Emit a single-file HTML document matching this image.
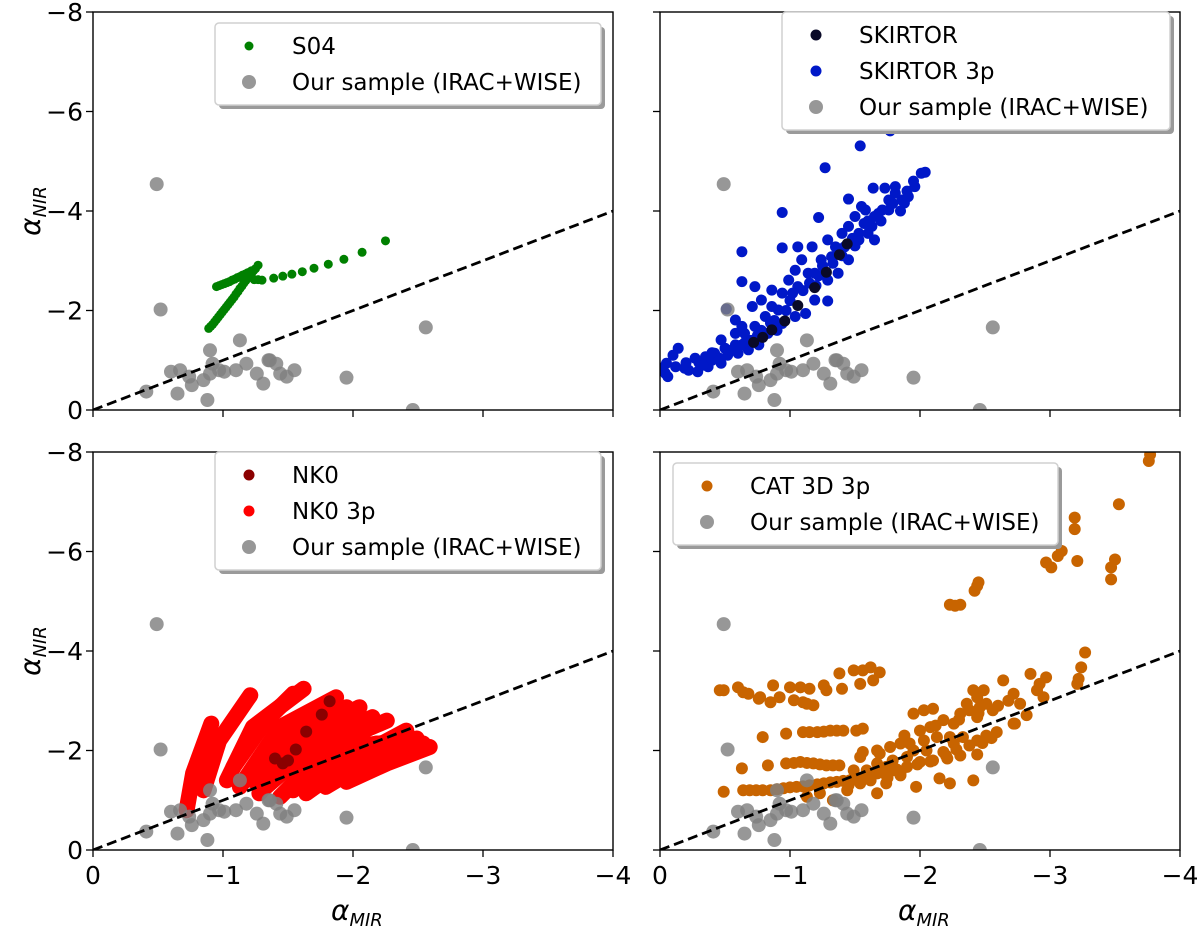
<!DOCTYPE html>
<html><head><meta charset="utf-8"><style>
body{margin:0;background:#fff}
svg{display:block;font-family:"DejaVu Sans","Liberation Sans",sans-serif}
</style></head><body>
<svg id="fig" width="1200" height="932" viewBox="0 0 1200 932" xmlns="http://www.w3.org/2000/svg"></svg>
<script>
const xTicks=[0,-1,-2,-3,-4];
const xTickLabels=["0","−1","−2","−3","−4"];
const yTicks=[0,-2,-4,-6,-8];
const yTickLabels=["0","−2","−4","−6","−8"];
const sampleX=[-0.49,-0.52,-2.56,-1.95,-0.41,-0.88,-2.46,-0.60,-0.67,-0.65,-0.76,-0.74,-0.85,-0.92,-0.97,-1.01,-1.10,-1.18,-1.26,-1.31,-1.36,-1.41,-1.44,-1.49,-1.55,-0.90,-1.13,-0.90,-1.35];
const sampleY=[-4.54,-2.02,-1.66,-0.65,-0.37,-0.20,0.0,-0.77,-0.80,-0.33,-0.50,-0.67,-0.60,-0.93,-0.80,-0.77,-0.80,-0.93,-0.73,-0.53,-1.00,-0.93,-0.73,-0.67,-0.80,-0.73,-1.40,-1.20,-1.00];
const s04X=[-0.89,-0.92,-0.95,-0.98,-1.01,-1.04,-1.07,-1.10,-1.13,-1.16,-1.19,-1.22,-1.25,-1.27,-0.95,-0.99,-1.03,-1.07,-1.11,-1.15,-1.19,-1.22,-1.24,-1.27,-1.30,-1.39,-1.46,-1.53,-1.61,-1.70,-1.81,-1.93,-2.07,-2.25,-0.905,-0.935,-0.965,-0.995,-1.025,-1.055,-1.085,-1.115,-1.145,-1.175,-1.205,-1.235,-0.97,-1.01,-1.05,-1.09,-1.13,-1.17,-1.21];
const s04Y=[-1.64,-1.72,-1.82,-1.92,-2.02,-2.12,-2.22,-2.33,-2.44,-2.55,-2.65,-2.75,-2.84,-2.91,-2.48,-2.52,-2.56,-2.61,-2.66,-2.71,-2.76,-2.80,-2.62,-2.62,-2.61,-2.65,-2.69,-2.73,-2.78,-2.85,-2.93,-3.03,-3.17,-3.40,-1.68,-1.77,-1.87,-1.97,-2.07,-2.17,-2.27,-2.38,-2.49,-2.60,-2.70,-2.80,-2.50,-2.54,-2.58,-2.63,-2.68,-2.73,-2.78];
const sk3pX=[-0.05,-0.06,-0.14,-0.19,-0.27,-0.35,-0.42,-0.50,-0.58,-0.58,-0.58,-0.65,-0.73,-0.71,-0.78,-0.73,-0.86,-0.86,-0.94,-0.99,-1.04,-1.09,-1.17,-1.06,-1.14,-1.24,-1.29,-1.35,-1.40,-1.45,-1.50,-1.55,-1.60,-1.65,-1.71,-1.76,-1.81,-1.86,-1.91,-1.96,-2.01,-2.04,-1.73,-1.81,-1.53,-1.45,-1.37,-1.29,-1.19,-1.12,-1.04,-0.94,-0.83,-0.76,-0.68,-0.60,-0.47,-0.37,-0.29,-0.22,-0.12,-0.04,-0.47,-0.63,-0.81,-0.91,-1.06,-1.19,-1.32,-1.42,-1.53,-1.63,-1.76,-1.88,-1.58,-1.65,-1.77,-1.54,-1.27,-0.94,-1.22,-0.63,-0.94,-0.63,-0.51,-1.29,-1.45,-1.64,-0.30,-0.40,-0.52,-0.70,-0.90,-1.00,-1.10,-1.20,-1.25,-1.40,-1.50,-1.60,-1.70,-1.85,-1.95,-0.85,-0.78,-0.65,-0.10,-0.02,-0.45,-0.55,-0.62,-0.75,-0.88,-0.97,-1.02,-1.15,-1.22,-1.33,-1.48,-1.57,-1.68,-1.79,-1.90,-0.20,-0.33,-0.40];
const sk3pY=[-0.94,-0.67,-1.24,-0.84,-1.04,-1.07,-1.14,-1.24,-1.31,-1.54,-1.81,-1.54,-1.68,-2.08,-2.21,-2.48,-2.08,-2.41,-2.35,-2.61,-2.81,-3.02,-3.28,-3.28,-2.75,-3.02,-3.42,-3.28,-3.55,-3.69,-3.89,-4.09,-3.55,-3.89,-4.02,-4.22,-4.36,-4.22,-4.29,-4.49,-4.76,-4.78,-4.46,-4.49,-3.42,-3.02,-2.75,-2.61,-2.21,-1.94,-1.88,-1.74,-1.54,-1.31,-1.21,-1.14,-0.94,-0.87,-0.77,-0.80,-0.87,-0.74,-1.41,-1.68,-1.88,-2.01,-2.48,-2.75,-3.08,-3.28,-3.55,-3.69,-4.02,-4.16,-4.02,-3.42,-5.61,-5.31,-4.87,-3.97,-3.87,-3.18,-3.26,-2.58,-2.03,-2.19,-4.24,-4.46,-0.95,-1.00,-1.10,-1.40,-1.60,-2.20,-2.40,-2.50,-2.90,-3.10,-3.30,-3.80,-3.80,-4.00,-4.60,-1.75,-1.60,-1.35,-1.10,-0.85,-1.05,-1.20,-1.30,-1.50,-1.80,-2.00,-2.35,-2.55,-2.70,-2.95,-3.45,-3.75,-3.95,-4.15,-4.40,-0.95,-0.90,-1.15];
const skX=[-0.72,-0.79,-0.86,-0.96,-1.06,-1.19,-1.28,-1.38,-1.44];
const skY=[-1.36,-1.46,-1.61,-1.79,-2.10,-2.46,-2.77,-3.12,-3.34];
const nk3pTracksX=[[-0.72,-0.77,-0.91],[-0.85,-0.97,-1.21],[-1.03,-1.23,-1.62],[-1.13,-1.44,-1.87],[-1.28,-1.64,-2.05],[-1.44,-1.85,-2.26],[-1.64,-2.03,-2.41],[-1.79,-2.13,-2.49],[-1.95,-2.26,-2.59],[-1.08,-1.33,-1.54],[-1.23,-1.54,-1.95],[-1.54,-1.95,-2.41],[-1.33,-1.74,-2.15],[-1.74,-2.18,-2.54]];
const nk3pTracksY=[[-0.80,-1.54,-2.54],[-1.20,-2.20,-3.11],[-1.40,-2.47,-3.24],[-1.27,-2.47,-3.07],[-1.14,-2.34,-2.87],[-1.07,-2.14,-2.60],[-1.14,-1.87,-2.40],[-1.27,-1.80,-2.24],[-1.37,-1.74,-2.07],[-1.67,-2.60,-3.14],[-1.40,-2.34,-2.87],[-1.20,-2.07,-2.20],[-1.27,-2.20,-2.67],[-1.54,-2.14,-2.14]];
const nk0X=[-1.40,-1.46,-1.50,-1.56,-1.64,-1.76,-1.82];
const nk0Y=[-1.84,-1.74,-1.80,-2.02,-2.38,-2.72,-2.99];
const catX=[-0.46,-0.60,-0.68,-0.76,-0.87,-0.85,-0.92,-1.00,-1.08,-1.15,-1.26,-1.28,-1.03,-1.10,-1.18,-1.38,-1.40,-1.49,-1.56,-1.62,-1.69,-1.54,-1.64,-0.49,-0.64,-0.77,-1.13,
-0.79,-0.97,-1.10,-1.21,-1.31,-1.41,-1.51,-1.56,-1.15,-1.36,-1.26,
-0.63,-0.83,-0.97,-1.08,-1.18,-1.28,-1.38,-1.49,-1.03,-1.13,-1.23,-1.33,
-0.49,-0.64,-0.74,-0.85,-0.95,-1.05,-1.15,-1.26,-1.36,-1.46,-1.56,-1.67,-1.79,-1.90,-2.00,-2.10,-2.21,-2.31,-2.44,-0.69,-0.79,-0.90,-1.00,-1.10,-1.21,-1.31,-1.41,-1.51,
-1.56,-1.67,-1.77,-1.85,-1.92,-2.03,-2.13,-2.23,-2.33,-2.44,-2.51,-2.59,-2.72,-2.82,-1.95,-2.03,-2.10,-2.18,-2.26,-2.08,-2.31,-2.36,-2.44,-2.51,-2.56,-2.64,-2.72,-2.77,-2.85,-2.92,-2.97,-2.90,-2.95,-2.44,-2.38,-2.46,-2.41,-2.49,
-1.13,-1.23,-1.33,-1.44,-1.54,-1.67,-1.74,-1.85,-1.97,-2.15,-2.23,-2.41,-1.67,-1.79,-1.95,-2.05,-2.18,-2.26,-1.59,-1.74,-1.90,-1.54,-1.69,
-2.23,-2.31,-2.27,-2.42,-2.45,-2.44,-2.97,-3.01,-3.06,-3.09,-3.19,-3.19,-3.21,-3.47,-3.50,-3.47,-3.53,-3.76,-3.77,-3.27,-3.24,-3.22,-3.21,-2.73,
-1.60,-1.72,-1.82,-1.98,-2.08,-2.20,-2.28,-2.38,-2.48,-2.55,-1.88,-2.00,-2.12,-2.30,-2.45,-2.60,-2.68,-1.45,-1.50,-1.62,-1.75,-1.85];
const catY=[-3.21,-3.27,-3.14,-3.04,-3.31,-2.97,-3.07,-3.27,-3.27,-3.24,-3.31,-3.21,-3.01,-2.97,-2.91,-3.55,-3.24,-3.61,-3.61,-3.67,-3.57,-3.34,-3.41,-3.21,-3.17,-3.07,-2.94,
-2.27,-2.34,-2.37,-2.37,-2.40,-2.40,-2.40,-2.44,-2.37,-2.40,-2.38,
-1.64,-1.70,-1.74,-1.77,-1.74,-1.70,-1.70,-1.60,-1.75,-1.75,-1.72,-1.70,
-1.17,-1.20,-1.20,-1.20,-1.24,-1.27,-1.30,-1.34,-1.37,-1.40,-1.44,-1.54,-1.60,-1.67,-1.77,-1.80,-1.84,-1.90,-1.92,-1.20,-1.20,-1.22,-1.26,-1.28,-1.32,-1.36,-1.39,-1.42,
-1.97,-2.00,-2.07,-2.14,-2.14,-2.20,-2.27,-2.27,-2.27,-2.20,-2.30,-2.37,-2.54,-2.71,-2.74,-2.81,-2.84,-2.61,-2.54,-2.47,-2.74,-2.94,-3.07,-2.94,-2.81,-3.41,-3.14,-2.94,-3.54,-3.34,-3.47,-3.21,-3.07,-2.67,-2.81,-2.87,-3.21,-3.21,
-1.07,-1.14,-1.00,-1.20,-1.34,-1.14,-1.34,-1.50,-1.27,-1.44,-1.34,-1.40,-1.74,-1.80,-2.00,-2.00,-1.97,-2.14,-1.60,-1.67,-1.87,-1.87,-1.94,
-4.93,-4.93,-4.91,-5.21,-5.38,-5.31,-5.78,-5.68,-5.91,-6.01,-6.68,-6.45,-5.81,-5.68,-5.84,-5.44,-6.95,-7.82,-7.95,-3.97,-3.67,-3.44,-3.34,-2.54,
-1.50,-1.55,-1.62,-1.72,-1.78,-1.90,-2.02,-2.10,-2.15,-2.25,-2.30,-2.40,-2.50,-2.62,-2.75,-2.90,-3.00,-1.30,-1.45,-1.40,-1.45,-1.55];

const NS="http://www.w3.org/2000/svg";
const svg=document.getElementById('fig');
const PW=520, PH=398;
function el(tag,attrs,parent){const e=document.createElementNS(NS,tag);for(const k in attrs)e.setAttribute(k,attrs[k]);(parent||svg).appendChild(e);return e;}
function sx(p,v){return p.left+(-v/4)*PW;}
function sy(p,v){return p.top+PH-(-v/8)*PH;}

const panels=[
 {key:'s04',left:93,top:12,xl:false,yl:true},
 {key:'skirtor',left:660,top:12,xl:false,yl:false},
 {key:'nk0',left:93,top:452,xl:true,yl:true},
 {key:'cat3d',left:660,top:452,xl:true,yl:false}
];

function dots(g,p,xs,ys,r,fill,op,name){
  for(let i=0;i<xs.length;i++){
    const c=el('circle',{cx:sx(p,xs[i]),cy:sy(p,ys[i]),r:r,fill:fill,'fill-opacity':op},g);
    
    
  }
}

function legend(g,p,x,y,w,entries){
  const h=10+entries.length*36;
  el('rect',{x:x+4,y:y+4,width:w,height:h,rx:4,fill:'#9a9a9a'},g);
  const box=el('rect',{x:x,y:y,width:w,height:h,rx:4,fill:'#fff',stroke:'#d0d0d0','stroke-width':1.5},g);
  
  
  entries.forEach((e,i)=>{
    const cy=y+23+i*36;
    const m=el('circle',{cx:x+34,cy:cy,r:e.r,fill:e.c,'fill-opacity':e.o},g);
    
    
    const t=el('text',{x:x+77,y:cy+8,'font-size':23,fill:'#000'},g);
    t.textContent=e.t;
    
    
  });
}

panels.forEach(p=>{
  const g=el('g',{});
  
  
  const clip=el('clipPath',{id:'c'+p.key},g);
  el('rect',{x:p.left,y:p.top,width:PW,height:PH},clip);
  const pg=el('g',{'clip-path':'url(#c'+p.key+')'},g);
  if(p.key==='s04'){
    dots(pg,p,s04X,s04Y,4.5,'#008000',1,'s04-point');
  } else if(p.key==='skirtor'){
    dots(pg,p,sk3pX,sk3pY,5.5,'#0018c8',1,'skirtor-3p-point');
    dots(pg,p,skX,skY,5.5,'#0a0a28',1,'skirtor-point');
  } else if(p.key==='nk0'){
    for(let i=0;i<nk3pTracksX.length;i++){
      const pts=nk3pTracksX[i].map((v,j)=>sx(p,v)+','+sy(p,nk3pTracksY[i][j])).join(' ');
      const pl=el('polyline',{points:pts,fill:'none',stroke:'#ff0000','stroke-width':16,'stroke-linecap':'round','stroke-linejoin':'round'},pg);
      
      
    }
    dots(pg,p,nk0X,nk0Y,6,'#8b0000',1,'nk0-point');
  } else {
    dots(pg,p,catX,catY,6,'#c86400',1,'cat3d-3p-point');
  }
  dots(pg,p,sampleX,sampleY,7,'#808080',0.82,'sample-point');
  const dl=el('line',{x1:sx(p,0),y1:sy(p,0),x2:sx(p,-4),y2:sy(p,-4),stroke:'#000','stroke-width':2.8,'stroke-dasharray':'10,5'},pg);
  
  
  const fr=el('rect',{x:p.left,y:p.top,width:PW,height:PH,fill:'none',stroke:'#000','stroke-width':1.4},g);
  
  
  xTicks.forEach((v,i)=>{
    const x=sx(p,v);
    el('line',{x1:x,y1:p.top+PH,x2:x,y2:p.top+PH+7,stroke:'#000','stroke-width':1.3},g);
    if(p.xl){
      const t=el('text',{x:x,y:p.top+PH+34,'font-size':25,'text-anchor':'middle'},g);
      t.textContent=xTickLabels[i];
      
      
    }
  });
  yTicks.forEach((v,i)=>{
    const y=sy(p,v);
    el('line',{x1:p.left-7,y1:y,x2:p.left,y2:y,stroke:'#000','stroke-width':1.3},g);
    if(p.yl){
      const t=el('text',{x:p.left-10,y:y+9,'font-size':25,'text-anchor':'end'},g);
      t.textContent=yTickLabels[i];
      
      
    }
  });
  if(p.yl){
    const cy=p.top+PH/2;
    const t=el('text',{x:0,y:0,'font-size':28,'font-style':'italic',transform:'translate(40,'+cy+') rotate(-90)','text-anchor':'middle'},g);
    t.innerHTML='α<tspan font-size="18" dy="6">NIR</tspan>';
    
    
  }
  if(p.xl){
    const t=el('text',{x:p.left+PW/2-22,y:p.top+PH+70,'font-size':28,'font-style':'italic'},g);
    t.innerHTML='α<tspan font-size="18" dy="6">MIR</tspan>';
    
    
  }
  const sample={t:'Our sample (IRAC+WISE)',c:'#808080',o:0.82,r:7};
  if(p.key==='s04') legend(g,p,215,23,386,[{t:'S04',c:'#008000',o:1,r:4.5},sample]);
  if(p.key==='skirtor') legend(g,p,782,12,388,[{t:'SKIRTOR',c:'#0a0a28',o:1,r:5.5},{t:'SKIRTOR 3p',c:'#0018c8',o:1,r:5.5},sample]);
  if(p.key==='nk0') legend(g,p,215,452,386,[{t:'NK0',c:'#8b0000',o:1,r:5.5},{t:'NK0 3p',c:'#ff0000',o:1,r:5.5},sample]);
  if(p.key==='cat3d') legend(g,p,673,463,385,[{t:'CAT 3D 3p',c:'#c86400',o:1,r:5.5},sample]);
});
</script>
</body></html>
